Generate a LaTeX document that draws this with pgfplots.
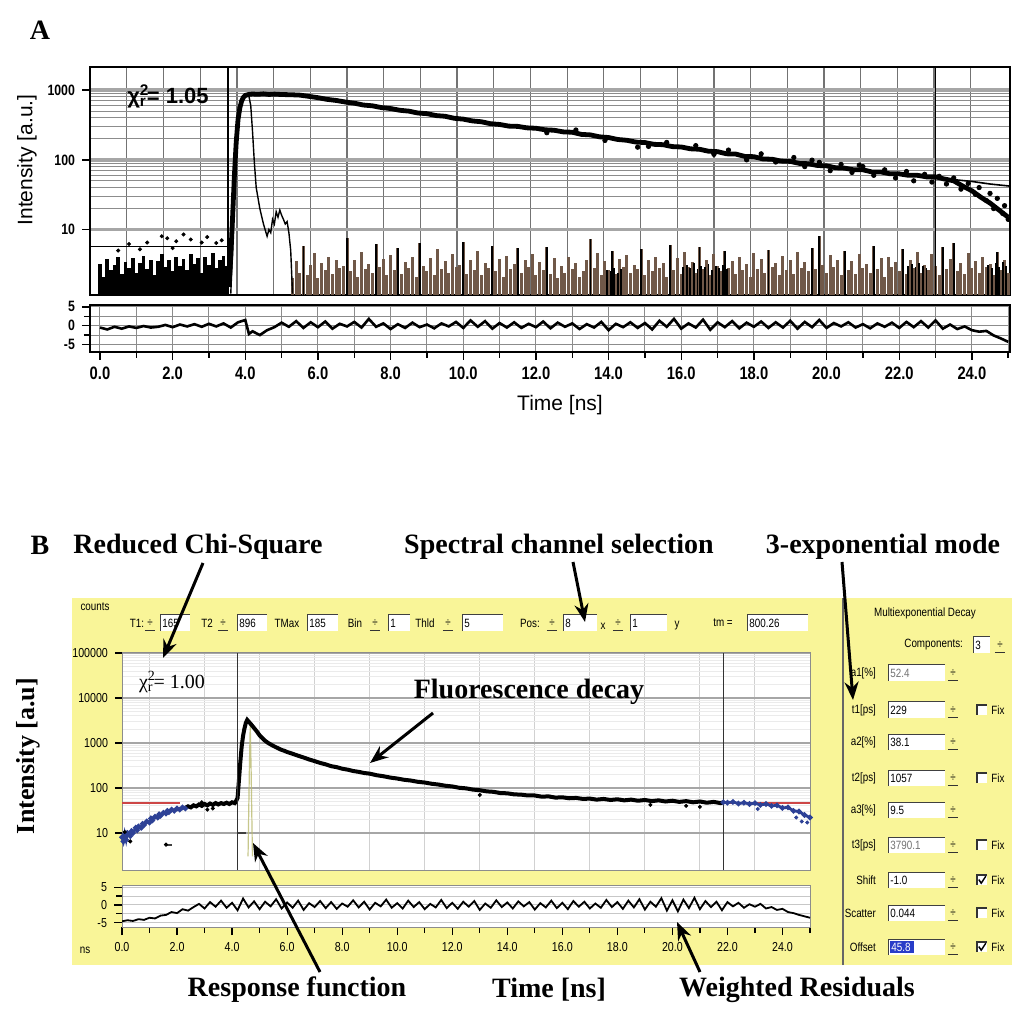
\documentclass[border=0pt]{standalone}
\usepackage{pgfplots}
\pgfplotsset{compat=1.18}
\usetikzlibrary{arrows.meta}
\usepackage{fontspec}
\setmainfont{Liberation Serif}
\setsansfont{Liberation Sans}
\newfontfamily\narrowsans[FakeStretch=0.82]{Liberation Sans}
\newcommand\uifont{\narrowsans\fontsize{6}{7}\selectfont}
\definecolor{panelyellow}{RGB}{249,245,152}
\definecolor{noisebrown}{RGB}{112,88,72}
\definecolor{fitred}{RGB}{205,70,70}
\definecolor{dotblue}{RGB}{45,65,150}
\definecolor{irfolive}{RGB}{185,185,110}
\definecolor{hlblue}{RGB}{40,60,200}
\newcommand{\spin}[2]{%
  \node[font=\uifont,inner sep=0pt] at ({#1},{#2}) {÷};
  \draw[black!80,line width=0.4pt] ({#1-2.6pt},{#2-3.8pt}) -- ({#1+2.6pt},{#2-3.8pt});
}
\newcommand{\uibox}[4]{%
  \fill[white] ({#1},{#3-4pt}) rectangle ({#2},{#3+4pt});
  \draw[black!75,line width=0.5pt] ({#1},{#3-4pt}) -- ({#1},{#3+4pt}) -- ({#2},{#3+4pt});
  \node[anchor=west,font=\uifont,inner sep=1pt] at ({#1},{#3}) {#4};
}
\newcommand{\chkbox}[3]{%
  \fill[white] ({#1-2.5pt},{#2-2.5pt}) rectangle ({#1+2.5pt},{#2+2.5pt});
  \draw[black!80,line width=0.6pt] ({#1-2.5pt},{#2-2.5pt}) -- ({#1-2.5pt},{#2+2.5pt}) -- ({#1+2.5pt},{#2+2.5pt});
  \ifnum#3=1 \draw[black,line width=0.7pt] ({#1-1.6pt},{#2+0.2pt}) -- ({#1-0.4pt},{#2-1.6pt}) -- ({#1+1.9pt},{#2+1.9pt});\fi
  \node[anchor=west,font=\uifont,inner sep=0pt] at ({#1+4.5pt},{#2}) {Fix};
}
\begin{document}
\begin{tikzpicture}
\path[use as bounding box] (0,0) rectangle (508pt,506pt);
% ---------------- panel B background
\fill[panelyellow] (36pt,23.5pt) rectangle (506pt,207pt);
\draw[black!60,line width=0.6pt] (421.5pt,23.5pt) -- (421.5pt,207pt);

% ================= PANEL A main
\begin{axis}[
  at={(45pt,358.5pt)}, anchor=south west,
  scale only axis, width=460pt, height=114pt,
  xmin=-0.275, xmax=25.05,
  ymode=log, ymin=1.15, ymax=2150,
  xtick={0.74,1.75,2.76,3.77,4.78,5.79,6.80,7.81,8.82,9.83,10.84,11.85,12.86,13.87,14.88,15.89,16.90,17.91,18.92,19.93,20.94,21.95,22.96,23.97},
  xticklabels={}, xmajorgrids,
  major x grid style={black!55,line width=0.6pt},
  x tick style={draw=none},
  ytick={10,100,1000}, yticklabels={10,100,1000},
  ymajorgrids, yminorgrids,
  major y grid style={black!35,line width=1.8pt},
  minor y grid style={black!45,line width=0.5pt},
  ytick pos=left, tick align=outside, major tick length=4pt,
  y tick style={black,line width=0.7pt}, minor y tick style={draw=none},
  yticklabel style={font=\narrowsans\bfseries\fontsize{7.5}{8}\selectfont},
  axis line style={black,line width=0.8pt},
]
% pre-rise background noise
\addplot[ycomb, black, line width=1.9pt] coordinates {
(0.0,3.2) (0.1,2.1) (0.2,3.8) (0.3,2.6) (0.4,3.1) (0.5,4.0) (0.6,2.3) (0.7,3.4) (0.8,2.8) (0.9,3.9)
(1.0,2.4) (1.1,3.3) (1.2,4.2) (1.3,2.7) (1.4,3.6) (1.5,2.2) (1.6,3.5) (1.7,4.4) (1.8,2.9) (1.9,3.7)
(2.0,2.5) (2.1,4.1) (2.2,3.0) (2.3,3.8) (2.4,2.6) (2.5,4.5) (2.6,3.2) (2.7,3.9) (2.8,2.4) (2.9,4.0)
(3.0,3.1) (3.1,4.6) (3.2,2.8) (3.3,3.7) (3.4,4.2) (3.5,3.0)};
% post-IRF noise
\addplot[ycomb, noisebrown, line width=1.5pt] coordinates {
(5.3,2.0) (5.4,3.5) (5.5,2.4) (5.6,5.8) (5.7,2.2) (5.8,3.1) (5.9,4.6) (6.0,2.0) (6.1,3.3) (6.2,2.6)
(6.3,4.1) (6.4,2.3) (6.5,3.7) (6.6,2.8) (6.7,3.0) (6.8,7.5) (6.9,2.5) (7.0,3.6) (7.1,2.1) (7.2,4.8)
(7.3,2.7) (7.4,3.2) (7.5,2.4) (7.6,6.2) (7.7,2.9) (7.8,3.8) (7.9,2.2) (8.0,4.3) (8.1,2.6) (8.2,5.5)
(8.3,2.3) (8.4,3.4) (8.5,2.8) (8.6,4.0) (8.7,2.1) (8.8,6.5) (8.9,3.0) (9.0,2.5) (9.1,3.9) (9.2,2.2)
(9.3,5.2) (9.4,2.7) (9.5,3.5) (9.6,2.4) (9.7,4.4) (9.8,2.9) (9.9,3.1) (10.0,6.6) (10.1,2.3) (10.2,3.6)
(10.3,2.6) (10.4,4.9) (10.5,2.2) (10.6,3.3) (10.7,2.8) (10.8,5.9) (10.9,2.5) (11.0,3.8) (11.1,2.1) (11.2,4.2)
(11.3,2.7) (11.4,3.2) (11.5,5.4) (11.6,2.4) (11.7,3.7) (11.8,2.9) (11.9,4.5) (12.0,2.2) (12.1,3.4) (12.2,2.6)
(12.3,5.6) (12.4,2.3) (12.5,3.9) (12.6,2.0) (12.7,3.0) (12.8,2.4) (12.9,4.1) (13.0,2.7) (13.1,3.3) (13.2,2.1)
(13.3,2.5) (13.4,3.6) (13.5,7.2) (13.6,2.8) (13.7,4.6) (13.8,2.2) (13.9,3.5) (14.0,2.6) (14.1,5.0) (14.2,2.3)
(14.3,3.8) (14.4,2.9) (14.5,4.3) (14.6,2.4) (14.7,3.1) (14.8,2.7) (14.9,5.3) (15.0,2.2) (15.1,3.6) (15.2,2.5)
(15.3,4.0) (15.4,2.8) (15.5,3.3) (15.6,2.1) (15.7,6.0) (15.8,2.6) (15.9,3.9) (16.0,2.3) (16.1,4.7) (16.2,2.9)
(16.3,3.4) (16.4,2.4) (16.5,5.7) (16.6,2.7) (16.7,3.7) (16.8,2.2) (16.9,4.4) (17.0,3.0) (17.1,2.5) (17.2,4.9)
(17.3,2.8) (17.4,3.5) (17.5,2.3) (17.6,4.1) (17.7,2.6) (17.8,3.2) (17.9,2.1) (18.0,4.6) (18.1,2.7) (18.2,3.8)
(18.3,2.4) (18.4,5.1) (18.5,2.9) (18.6,3.3) (18.7,2.2) (18.8,4.2) (18.9,2.6) (19.0,3.6) (19.1,2.3) (19.2,4.8)
(19.3,2.8) (19.4,3.4) (19.5,2.5) (19.6,5.5) (19.7,2.7) (19.8,8.0) (19.9,3.1) (20.0,2.4) (20.1,4.3) (20.2,2.9)
(20.3,3.7) (20.4,2.2) (20.5,5.0) (20.6,2.6) (20.7,3.5) (20.8,2.3) (20.9,4.5) (21.0,2.8) (21.1,3.2) (21.2,2.4)
(21.3,5.8) (21.4,2.7) (21.5,3.9) (21.6,2.1) (21.7,4.0) (21.8,2.9) (21.9,3.4) (22.0,2.5) (22.1,5.2) (22.2,2.3)
(22.3,3.6) (22.4,2.8) (22.5,4.7) (22.6,2.4) (22.7,3.1) (22.8,2.6) (22.9,4.4) (23.0,3.0) (23.1,2.2) (23.2,5.6)
(23.3,2.7) (23.4,3.8) (23.5,6.4) (23.6,2.5) (23.7,3.3) (23.8,2.3) (23.9,4.6) (24.0,2.8) (24.1,3.5) (24.2,2.4)
(24.3,4.1) (24.4,2.9) (24.5,3.2) (24.6,2.2) (24.7,4.8) (24.8,2.6) (24.9,3.7) (25.0,2.4)};
% darker spikes and blocks within the noise
\addplot[ycomb, black, line width=0.9pt] coordinates {
(5.6,5.8) (6.8,7.5) (7.6,6.2) (8.2,5.5) (8.8,6.5) (10.0,6.6) (10.8,5.9) (11.5,5.4) (12.3,5.6) (13.5,7.2)
(14.1,5.0) (14.9,5.3) (15.7,6.0) (16.5,5.7) (17.2,4.9) (18.4,5.1) (19.6,5.5) (19.8,8.0) (20.5,5.0) (21.3,5.8)
(22.1,5.2) (23.2,5.6) (23.5,6.4) (24.7,4.8)
(13.95,2.6) (14.05,2.5) (14.15,2.8) (14.25,2.4) (14.35,2.7)
(16.05,2.9) (16.15,3.1) (16.25,2.8) (16.35,3.3) (16.45,2.7) (16.55,3.0) (16.65,2.9) (16.75,3.2) (16.85,2.6) (16.95,3.0)
(17.05,2.8) (17.15,3.1) (17.25,2.7)
(22.25,3.0) (22.35,3.2) (22.45,2.9) (22.55,3.3) (22.65,3.0) (22.75,2.8)
(24.45,3.1) (24.55,2.8) (24.65,3.3) (24.75,2.9) (24.85,3.4) (24.95,3.0)};
% sparse points above the early background
\addplot[only marks, mark=*, mark size=0.8pt, black] coordinates {
(0.5,5.0) (0.8,6.2) (1.1,5.2) (1.3,6.5) (1.7,8.0) (1.85,7.5) (2.0,5.4) (2.1,6.8) (2.3,8.5) (2.5,7.2)
(2.8,6.5) (2.95,7.8) (3.2,6.4) (3.35,7.0)};
\addplot[black, line width=0.9pt] coordinates {(-0.3,5.7) (3.52,5.7)};
% instrument response
\addplot[black, line width=0.7pt] coordinates {
(3.6,1.2) (3.65,5) (3.7,40) (3.75,200) (3.8,450) (3.85,650) (3.9,780) (4.0,840) (4.1,820) (4.15,600)
(4.2,250) (4.25,90) (4.3,40) (4.4,20) (4.5,12) (4.6,8) (4.65,10) (4.7,9) (4.75,14) (4.8,12)
(4.85,18) (4.9,15) (4.95,19) (5.0,16) (5.05,14) (5.1,12) (5.15,13) (5.2,9) (5.25,5) (5.3,1.2)};
% fluorescence decay
\addplot[black, line width=2.4pt] coordinates {
(3.55,1.5) (3.6,4) (3.65,15) (3.7,60) (3.75,180) (3.8,380) (3.85,560) (3.9,700) (3.95,790) (4.0,840)
(4.1,870) (4.2,880) (4.35,872) (4.5,885) (4.65,868) (4.8,878) (5.0,866) (5.25,860) (5.5,849) (5.75,815)
(6.0,780) (6.25,738) (6.5,712) (6.75,676) (7.0,650) (7.25,612) (7.5,596) (7.75,562) (8.0,545) (8.25,515)
(8.5,500) (8.75,470) (9.0,460) (9.25,432) (9.5,422) (9.75,395) (10.0,384) (10.25,362) (10.5,352) (10.75,330)
(11.0,322) (11.25,305) (11.5,302) (11.75,288) (12.0,284) (12.25,270) (12.5,266) (12.75,252) (13.0,249) (13.25,232)
(13.5,228) (13.75,214) (14.0,209) (14.25,196) (14.5,191) (14.75,180) (15.0,177) (15.25,167) (15.5,165) (15.75,155)
(16.0,153) (16.25,144) (16.5,142) (16.75,133) (17.0,131) (17.25,122) (17.5,121) (17.75,112) (18.0,111) (18.25,103)
(18.5,102) (18.75,96) (19.0,95) (19.25,89) (19.5,88) (19.75,83) (20.0,82) (20.25,77) (20.5,76) (20.75,72)
(21.0,72) (21.25,67) (21.5,67) (21.75,63) (22.0,63) (22.25,60) (22.5,60) (22.75,57) (23.0,57) (23.25,53)
(23.5,50) (23.75,42) (24.0,36) (24.25,29) (24.5,24) (24.75,19) (25.0,15)};
% fit
\addplot[black, line width=0.8pt] coordinates {
(20.0,81) (21.0,71) (22.0,62) (23.0,56) (23.5,52) (24.0,49) (24.5,45) (25.05,42)};
\addplot[only marks, mark=*, mark size=1.1pt, black] coordinates {
(12.3,245) (13.1,268) (13.9,190) (14.8,152) (15.1,156) (15.6,178) (16.4,160) (16.9,120) (17.3,138) (17.8,100)
(18.2,122) (18.6,93) (19.1,108) (19.4,80) (19.6,99) (19.8,92) (20.1,70) (20.4,86) (20.7,66) (20.9,84)
(21.0,80) (21.3,60) (21.6,72) (21.9,55) (22.2,68) (22.4,50) (22.7,62) (22.9,48) (23.1,58) (23.3,45)
(23.5,55) (23.7,38) (23.9,46) (24.1,32) (24.2,40) (24.4,26) (24.5,33) (24.6,20) (24.7,28) (24.85,17)
(24.9,22) (25.0,14)};
% cursors
\addplot[black, line width=1pt] coordinates {(3.52,1.05) (3.52,2200)};
\addplot[black, line width=0.9pt] coordinates {(23.0,1.05) (23.0,2200)};
\end{axis}

% ================= PANEL A residuals
\begin{axis}[
  at={(45pt,330pt)}, anchor=south west,
  scale only axis, width=460pt, height=23.5pt,
  xmin=-0.275, xmax=25.05, ymin=-7, ymax=5.5,
  xtick={0,2,...,24}, minor xtick={1,3,...,25},
  xticklabels={0.0,2.0,4.0,6.0,8.0,10.0,12.0,14.0,16.0,18.0,20.0,22.0,24.0},
  ytick={-5,0,5}, yticklabels={-5,0,5}, minor ytick={-2.5,2.5},
  xmajorgrids, xminorgrids, ymajorgrids, yminorgrids,
  grid style={black!45,line width=0.5pt},
  xtick pos=bottom, ytick pos=left, tick align=outside,
  major tick length=4pt, minor tick length=3pt,
  tick style={black,line width=0.7pt},
  xticklabel style={font=\narrowsans\bfseries\fontsize{9}{10}\selectfont},
  yticklabel style={font=\narrowsans\bfseries\fontsize{7.5}{8}\selectfont},
  axis line style={black,line width=0.8pt},
]
\addplot[black, line width=1.3pt] coordinates {
(0.0,-0.5) (0.2,-1.0) (0.4,-0.3) (0.6,-0.8) (0.8,-0.2) (1.0,-0.6) (1.2,-0.1) (1.4,-0.5) (1.6,-0.3) (1.8,0.2)
(2.0,-0.4) (2.2,0.3) (2.4,-0.2) (2.6,0.4) (2.8,-0.3) (3.0,0.5) (3.2,-0.2) (3.4,0.6) (3.6,-0.5) (3.8,0.9)
(4.0,1.5) (4.1,-2.2) (4.2,-1.5) (4.4,-2.5) (4.6,-1.2) (4.8,-0.4) (5.0,0.8) (5.2,-0.3) (5.4,1.2) (5.6,-0.6)
(5.8,0.9) (6.0,-0.4) (6.2,1.1) (6.4,-0.8) (6.6,0.5) (6.8,-0.2) (7.0,1.0) (7.2,-0.5) (7.4,1.8) (7.6,-0.3)
(7.8,0.6) (8.0,-0.9) (8.2,0.4) (8.4,-0.6) (8.6,0.8) (8.8,-0.4) (9.0,0.3) (9.2,-0.7) (9.4,0.6) (9.6,-0.2)
(9.8,1.0) (10.0,-0.6) (10.2,1.4) (10.4,-0.3) (10.6,1.2) (10.8,-0.8) (11.0,0.7) (11.2,-0.5) (11.4,0.9) (11.6,-0.6)
(11.8,0.5) (12.0,-0.4) (12.2,1.1) (12.4,-0.7) (12.6,0.8) (12.8,-0.3) (13.0,0.6) (13.2,-0.9) (13.4,0.4) (13.6,-0.5)
(13.8,1.0) (14.0,-1.2) (14.2,0.5) (14.4,-0.4) (14.6,0.9) (14.8,-0.6) (15.0,0.7) (15.2,-1.0) (15.4,1.3) (15.6,-0.3)
(15.8,1.8) (16.0,-0.8) (16.2,0.6) (16.4,-0.5) (16.6,1.6) (16.8,-1.1) (17.0,0.9) (17.2,-0.4) (17.4,1.2) (17.6,-0.7)
(17.8,0.8) (18.0,-0.3) (18.2,1.1) (18.4,-0.6) (18.6,0.9) (18.8,-0.5) (19.0,1.3) (19.2,-0.8) (19.4,1.0) (19.6,-0.4)
(19.8,1.5) (20.0,-0.6) (20.2,0.7) (20.4,-0.2) (20.6,0.9) (20.8,-0.5) (21.0,0.4) (21.2,-0.7) (21.4,0.6) (21.6,-0.3)
(21.8,0.8) (22.0,-0.6) (22.2,1.0) (22.4,-0.4) (22.6,1.2) (22.8,-0.5) (23.0,1.4) (23.2,-0.8) (23.4,0.3) (23.6,-0.9)
(23.8,-0.2) (24.0,-1.2) (24.2,-1.6) (24.4,-1.4) (24.6,-2.6) (24.8,-3.4) (25.0,-4.3)};
\end{axis}

% ================= PANEL B main
\begin{axis}[
  at={(61pt,71pt)}, anchor=south west,
  scale only axis, width=344pt, height=108.5pt,
  xmin=0, xmax=25, ymode=log, ymin=1.5, ymax=100000,
  axis background/.style={fill=white},
  xtick={1,3,...,25}, xticklabels={}, x tick style={draw=none},
  xmajorgrids, major x grid style={black!18,line width=0.5pt},
  ytick={10,100,1000,10000,100000}, yticklabels={10,100,1000,10000,100000},
  ymajorgrids, yminorgrids,
  major y grid style={black!35,line width=0.8pt},
  minor y grid style={black!8,line width=0.4pt},
  ytick pos=left, tick align=outside, major tick length=3.5pt,
  y tick style={black,line width=0.6pt}, minor y tick style={draw=none},
  yticklabel style={font=\narrowsans\fontsize{6.5}{7}\selectfont},
  axis line style={black!45,line width=0.5pt},
]
\addplot[fitred, line width=0.9pt] coordinates {(0,45.8) (2.1,45.8)};
\addplot[fitred, line width=0.9pt] coordinates {(21.85,45.8) (25,45.8)};
\addplot[irfolive, line width=0.6pt, opacity=0.8] coordinates {(4.58,3) (4.63,300) (4.66,2500) (4.69,300) (4.74,3)};
% early rising background (blue)
\addplot[dotblue, line width=1.4pt, mark=*, mark size=0.55pt] coordinates {
(0.0,8) (0.05,6.5) (0.1,9.5) (0.15,7) (0.2,10) (0.3,8.5) (0.35,11) (0.4,10) (0.5,13) (0.55,11.5)
(0.6,14) (0.7,13) (0.75,16) (0.8,15) (0.9,18) (1.0,17) (1.05,21) (1.1,19) (1.2,23) (1.3,22)
(1.35,26) (1.4,24) (1.5,28) (1.6,27) (1.65,31) (1.7,29) (1.8,33) (1.9,31) (2.0,35) (2.1,33)
(2.2,37) (2.3,35)};
% decay (black)
\addplot[black, line width=2pt] coordinates {
(2.3,36) (2.4,39) (2.5,37) (2.6,41) (2.7,39) (2.8,43) (2.9,40) (3.0,44) (3.1,41) (3.2,45)
(3.3,42) (3.4,46) (3.5,43) (3.6,46) (3.7,44) (3.8,47) (3.9,44) (4.0,48) (4.1,46) (4.15,52)
(4.2,60) (4.25,150) (4.3,380) (4.35,850) (4.4,1450) (4.45,2100) (4.5,2800) (4.55,3250) (4.6,3000) (4.7,2550)
(4.8,2150) (4.9,1800) (5.0,1480) (5.1,1280) (5.2,1120) (5.3,1010) (5.4,930) (5.5,860) (5.6,800) (5.7,750)
(5.8,700) (5.9,670) (6.0,630) (6.2,575) (6.4,520) (6.6,475) (6.8,430) (7.0,395) (7.2,360) (7.4,335)
(7.6,305) (7.8,290) (8.0,268) (8.2,255) (8.4,238) (8.6,228) (8.8,215) (9.0,208) (9.25,192) (9.5,182)
(9.75,170) (10.0,162) (10.25,152) (10.5,146) (10.75,137) (11.0,132) (11.25,124) (11.5,119) (11.75,112) (12.0,108)
(12.25,101) (12.5,98) (12.75,92) (13.0,89) (13.25,84) (13.5,82) (13.75,77) (14.0,76) (14.25,72) (14.5,71)
(14.75,68) (15.0,68) (15.25,64) (15.5,65) (15.75,61) (16.0,62) (16.25,59) (16.5,60) (16.75,57) (17.0,58)
(17.25,55) (17.5,57) (17.75,54) (18.0,56) (18.25,53) (18.5,55) (18.75,52) (19.0,54) (19.25,51) (19.5,53)
(19.75,50) (20.0,52) (20.25,49) (20.5,51) (20.75,48) (21.0,50) (21.25,47) (21.5,49) (21.75,46) (21.85,48)};
% late background (blue)
\addplot[dotblue, line width=1.4pt, mark=*, mark size=0.55pt] coordinates {
(21.85,48) (22.0,47) (22.2,49) (22.4,45) (22.6,47) (22.8,44) (23.0,46) (23.2,42) (23.4,44) (23.6,40)
(23.8,41) (24.0,36) (24.2,37) (24.4,31) (24.6,30) (24.8,25) (25.0,22)};
\addplot[only marks, mark=*, mark size=0.8pt, dotblue] coordinates {(24.5,22) (24.7,18) (24.9,17) (23.1,34)};
\addplot[only marks, mark=*, mark size=0.8pt, black] coordinates {
(1.6,5.5) (2.9,48) (3.1,33) (3.3,35) (13.0,70) (19.2,42) (20.5,40) (21.0,38) (0.1,10.5) (0.3,6.5)};
\addplot[black!75, line width=0.6pt] coordinates {(4.2,10) (4.5,10)};
\addplot[black!75, line width=0.6pt] coordinates {(1.65,5.4) (1.8,5.4)};
% cursors
\addplot[black!80, line width=0.6pt] coordinates {(4.2,1.5) (4.2,100000)};
\addplot[black!80, line width=0.6pt] coordinates {(21.85,1.5) (21.85,100000)};
\end{axis}

% ================= PANEL B residuals
\begin{axis}[
  at={(61pt,42.5pt)}, anchor=south west,
  scale only axis, width=344pt, height=21pt,
  xmin=0, xmax=25, ymin=-6.2, ymax=5.6,
  axis background/.style={fill=white},
  xtick={0,2,...,24}, minor xtick={1,3,...,25},
  xticklabels={0.0,2.0,4.0,6.0,8.0,10.0,12.0,14.0,16.0,18.0,20.0,22.0,24.0},
  ytick={-5,0,5}, yticklabels={-5,0,5}, minor ytick={-2.5,2.5},
  ymajorgrids, yminorgrids, grid style={black!22,line width=0.5pt},
  xtick pos=bottom, ytick pos=left, tick align=outside,
  major tick length=4pt, minor tick length=3pt,
  tick style={black,line width=0.6pt},
  xticklabel style={font=\narrowsans\fontsize{6.5}{7}\selectfont},
  yticklabel style={font=\narrowsans\fontsize{6.5}{7}\selectfont},
  axis line style={black!45,line width=0.5pt},
]
\addplot[black, line width=0.9pt] coordinates {
(0.0,-4.6) (0.2,-4.3) (0.4,-4.5) (0.6,-4.0) (0.8,-4.2) (1.0,-3.6) (1.2,-3.8) (1.4,-3.0) (1.6,-2.8) (1.8,-2.0)
(2.0,-2.3) (2.2,-1.2) (2.4,-1.6) (2.6,-0.6) (2.8,0.3) (3.0,-1.0) (3.2,0.8) (3.4,-0.5) (3.6,1.2) (3.8,-0.8)
(4.0,0.6) (4.2,-1.5) (4.4,1.8) (4.6,-0.7) (4.8,1.0) (5.0,-1.2) (5.2,0.9) (5.4,-0.4) (5.6,1.6) (5.8,-1.0)
(6.0,0.7) (6.2,-0.8) (6.4,1.2) (6.6,-1.4) (6.8,0.5) (7.0,-0.6) (7.2,1.1) (7.4,-0.9) (7.6,0.8) (7.8,-1.1)
(8.0,0.4) (8.2,-0.5) (8.4,1.3) (8.6,-0.7) (8.8,0.9) (9.0,-1.3) (9.2,0.6) (9.4,-0.4) (9.6,1.5) (9.8,-0.8)
(10.0,0.5) (10.2,-1.0) (10.4,1.2) (10.6,-0.6) (10.8,0.8) (11.0,-1.2) (11.2,0.3) (11.4,-0.7) (11.6,1.4) (11.8,-0.9)
(12.0,0.6) (12.2,-1.1) (12.4,0.9) (12.6,-0.5) (12.8,1.1) (13.0,-1.4) (13.2,0.4) (13.4,-0.8) (13.6,1.3) (13.8,-0.6)
(14.0,0.7) (14.2,-1.0) (14.4,1.0) (14.6,-0.4) (14.8,0.8) (15.0,-1.3) (15.2,0.5) (15.4,-0.7) (15.6,1.2) (15.8,-0.9)
(16.0,0.6) (16.2,-1.2) (16.4,1.1) (16.6,-0.5) (16.8,0.9) (17.0,-1.0) (17.2,0.4) (17.4,-0.8) (17.6,1.4) (17.8,-0.6)
(18.0,0.8) (18.2,-1.1) (18.4,1.2) (18.6,-0.7) (18.8,1.6) (19.0,-1.3) (19.2,0.9) (19.4,-0.5) (19.6,1.9) (19.8,-1.6)
(20.0,1.3) (20.2,-1.8) (20.4,1.5) (20.6,-0.9) (20.8,2.0) (21.0,-1.2) (21.2,1.1) (21.4,-0.6) (21.6,0.9) (21.8,-1.5)
(22.0,0.8) (22.2,-0.4) (22.4,0.6) (22.6,-0.8) (22.8,0.2) (23.0,-0.5) (23.2,0.3) (23.4,-1.0) (23.6,-0.6) (23.8,-1.4)
(24.0,-1.1) (24.2,-2.0) (24.4,-2.3) (24.6,-2.8) (24.8,-3.2) (25.0,-3.6)};
\end{axis}

% ================= texts panel A
\node[font=\bfseries\fontsize{14}{16}\selectfont] at (20pt,491pt) {A};
\node[font=\sffamily\fontsize{10.5}{12}\selectfont, rotate=90] at (13.5pt,426pt) {Intensity [a.u.]};
\node[font=\sffamily\fontsize{10.5}{12}\selectfont] at (280pt,303.5pt) {Time [ns]};
\node[font=\sffamily\bfseries\fontsize{11}{12}\selectfont, inner sep=0pt] at (84pt,458pt) {χ\rlap{\textsuperscript{2}}\textsubscript{r}= 1.05};

% ================= texts panel B
\node[font=\bfseries\fontsize{14}{16}\selectfont] at (20pt,233.5pt) {B};
\node[font=\bfseries\fontsize{14}{16}\selectfont] at (99pt,232.5pt) {Reduced Chi-Square};
\node[font=\bfseries\fontsize{14}{16}\selectfont] at (279.5pt,232.5pt) {Spectral channel selection};
\node[font=\bfseries\fontsize{14}{16}\selectfont] at (441.5pt,232.5pt) {3-exponential mode};
\node[font=\bfseries\fontsize{14}{16}\selectfont] at (264.5pt,160pt) {Fluorescence decay};
\node[font=\bfseries\fontsize{13}{15}\selectfont, rotate=90] at (14pt,128pt) {Intensity [a.u]};
\node[font=\bfseries\fontsize{14}{16}\selectfont] at (148.5pt,11pt) {Response function};
\node[font=\bfseries\fontsize{14}{16}\selectfont] at (274.5pt,11pt) {Time [ns]};
\node[font=\bfseries\fontsize{14}{16}\selectfont] at (398.5pt,11pt) {Weighted Residuals};
\node[font=\fontsize{10}{12}\selectfont, inner sep=0pt] at (86pt,165pt) {χ\rlap{\textsuperscript{2}}\textsubscript{r}= 1.00};

% UI top row
\node[font=\uifont] at (47.5pt,202.5pt) {counts};
\node[font=\uifont] at (42.5pt,31pt) {ns};
\node[font=\uifont] at (68.5pt,194.5pt) {T1:};
\spin{75pt}{194.5pt}
\uibox{80pt}{95pt}{194.5pt}{165}
\node[font=\uifont] at (103.5pt,194.5pt) {T2};
\spin{111.5pt}{194.5pt}
\uibox{118.5pt}{133.5pt}{194.5pt}{896}
\node[font=\uifont] at (143.5pt,194.5pt) {TMax};
\uibox{153.5pt}{169pt}{194.5pt}{185}
\node[font=\uifont] at (177.5pt,194.5pt) {Bin};
\spin{187.5pt}{194.5pt}
\uibox{194pt}{205pt}{194.5pt}{1}
\node[font=\uifont] at (212.5pt,194.5pt) {Thld};
\spin{224pt}{194.5pt}
\uibox{231pt}{251.5pt}{194.5pt}{5}
\node[font=\uifont] at (265pt,194.5pt) {Pos:};
\spin{276pt}{194.5pt}
\uibox{281.5pt}{298.5pt}{194.5pt}{8}
\node[font=\uifont] at (301.5pt,193pt) {x};
\spin{309pt}{194.5pt}
\uibox{315pt}{333.5pt}{194.5pt}{1}
\node[font=\uifont] at (338.5pt,193pt) {y};
\node[font=\uifont] at (361.5pt,194.5pt) {tm =};
\uibox{373.5pt}{404pt}{194.5pt}{800.26}

% right parameter panel
\node[font=\uifont] at (462.5pt,199.5pt) {Multiexponential Decay};
\node[font=\uifont, anchor=east] at (485pt,183.5pt) {Components:};
\uibox{486.5pt}{495pt}{183.5pt}{3}
\spin{500pt}{183.5pt}
\node[font=\uifont, anchor=east] at (441.5pt,169.5pt) {a1[\%]};
\uibox{444pt}{472.5pt}{169.5pt}{\textcolor{black!55}{52.4}}
\spin{476.5pt}{169.5pt}
\node[font=\uifont, anchor=east] at (441.5pt,151pt) {t1[ps]};
\uibox{444pt}{472.5pt}{151pt}{229}
\spin{476.5pt}{151pt}
\chkbox{491pt}{151pt}{0}
\node[font=\uifont, anchor=east] at (441.5pt,135pt) {a2[\%]};
\uibox{444pt}{472.5pt}{135pt}{38.1}
\spin{476.5pt}{135pt}
\node[font=\uifont, anchor=east] at (441.5pt,117pt) {t2[ps]};
\uibox{444pt}{472.5pt}{117pt}{1057}
\spin{476.5pt}{117pt}
\chkbox{491pt}{117pt}{0}
\node[font=\uifont, anchor=east] at (441.5pt,101pt) {a3[\%]};
\uibox{444pt}{472.5pt}{101pt}{9.5}
\spin{476.5pt}{101pt}
\node[font=\uifont, anchor=east] at (441.5pt,83.5pt) {t3[ps]};
\uibox{444pt}{472.5pt}{83.5pt}{\textcolor{black!55}{3790.1}}
\spin{476.5pt}{83.5pt}
\chkbox{491pt}{83.5pt}{0}
\node[font=\uifont, anchor=east] at (441.5pt,66pt) {Shift};
\uibox{444pt}{472.5pt}{66pt}{-1.0}
\spin{476.5pt}{66pt}
\chkbox{491pt}{66pt}{1}
\node[font=\uifont, anchor=east] at (441.5pt,49.5pt) {Scatter};
\uibox{444pt}{472.5pt}{49.5pt}{0.044}
\spin{476.5pt}{49.5pt}
\chkbox{491pt}{49.5pt}{0}
\node[font=\uifont, anchor=east] at (441.5pt,32.5pt) {Offset};
\uibox{444pt}{472.5pt}{32.5pt}{}
\fill[hlblue] (445pt,29.5pt) rectangle (457pt,35.5pt);
\node[font=\uifont, anchor=west, text=white, inner sep=1pt] at (444.5pt,32.5pt) {45.8};
\spin{476.5pt}{32.5pt}
\chkbox{491pt}{32.5pt}{1}

% arrows
\begin{scope}[line width=1.5pt, -{Stealth[length=9pt,width=7pt]}]
\draw (101.5pt,224.5pt) -- (81.5pt,177pt);
\draw (286.5pt,225pt) -- (292.5pt,195pt);
\draw (421pt,225pt) -- (426.5pt,156pt);
\draw (216.5pt,149.5pt) -- (185pt,124.5pt);
\draw (160pt,20pt) -- (126.5pt,84.5pt);
\draw (350pt,20pt) -- (338.5pt,45pt);
\end{scope}
\end{tikzpicture}
\end{document}
